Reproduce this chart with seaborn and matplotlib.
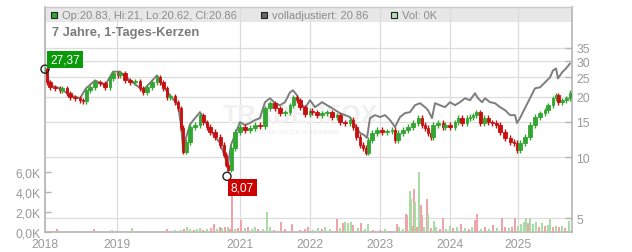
import numpy as np
import matplotlib
matplotlib.use("Agg")
import matplotlib.pyplot as plt
import seaborn as sns
from matplotlib.patches import Rectangle
from matplotlib.ticker import FixedLocator, NullLocator, FixedFormatter

# ---------------- data ----------------
sessions = [0, 2, 5, 10, 15, 17, 22, 25, 30, 35,
            38, 41, 45, 50, 55, 60, 65, 68, 73, 75,
            80, 85, 90, 95, 98, 102, 107, 112, 115, 118,
            122, 125, 130, 133, 136, 138, 141, 145, 150, 155,
            158, 162, 165, 170, 175, 179, 181, 183, 186, 190,
            195, 200, 205, 210, 215, 220, 225, 230, 235, 240,
            245, 248, 252, 255, 260, 265, 267, 272, 277, 282,
            287, 292, 295, 300, 305, 308, 311, 315, 318, 321,
            323, 327, 332, 337, 342, 347, 350, 353, 358, 363,
            368, 373, 377, 380, 383, 386, 388, 393, 398, 400,
            405, 410, 413, 417, 422, 425, 428, 431, 435, 439,
            443, 447, 451, 455, 460, 465, 469, 472, 475, 480,
            485, 490, 495, 500, 503, 508, 511, 513, 517, 521,
            525]
close = [27.37, 23.54, 22.25, 22.00, 21.51, 22.00, 20.79, 19.87, 19.65, 19.21,
         19.00, 21.51, 22.25, 23.54, 23.28, 22.25, 24.63, 26.07, 25.49, 26.07,
         24.08, 23.54, 23.80, 22.00, 21.02, 22.25, 23.54, 24.91, 23.54, 22.00,
         19.87, 20.10, 18.78, 17.55, 14.00, 10.67, 11.95, 14.15, 14.47, 16.21,
         14.97, 14.15, 13.38, 12.64, 11.55, 10.31, 9.21, 8.70, 11.16, 13.38,
         14.15, 13.68, 14.00, 14.47, 14.30, 17.55, 18.57, 17.55, 16.58, 16.77,
         18.15, 19.87, 19.21, 17.75, 16.40, 17.00, 16.77, 16.21, 16.58, 16.77,
         15.85, 16.21, 14.97, 14.81, 15.32, 14.15, 12.64, 11.55, 11.16, 10.55,
         12.22, 13.22, 13.68, 13.38, 13.50, 13.68, 12.22, 13.22, 13.68, 14.15,
         14.81, 15.67, 14.47, 14.00, 13.22, 12.64, 14.47, 14.81, 14.15, 14.47,
         14.15, 14.97, 15.67, 14.81, 15.67, 15.85, 16.21, 16.77, 14.81, 15.67,
         14.97, 14.81, 14.47, 13.38, 12.50, 11.95, 11.81, 10.91, 11.81, 12.64,
         14.47, 15.85, 16.58, 17.16, 18.15, 19.65, 20.32, 18.78, 19.21, 19.65,
         20.86]

adj_sessions = [0, 5, 15, 25, 35, 41, 50, 60, 68, 75,
                85, 98, 112, 118, 125, 133, 136, 138, 145, 155,
                165, 175, 181, 183, 186, 195, 200, 205, 210, 215,
                220, 225, 230, 235, 240, 245, 248, 252, 255, 260,
                265, 270, 277, 282, 287, 295, 300, 305, 310, 315,
                319, 322, 325, 330, 335, 340, 345, 350, 355, 360,
                365, 370, 375, 380, 383, 387, 390, 395, 400, 405,
                410, 415, 420, 425, 430, 433, 437, 440, 445, 450,
                455, 460, 465, 470, 472, 475, 480, 485, 490, 495,
                500, 505, 508, 511, 513, 517, 521, 525]
adj_close = [27.59, 22.75, 22.00, 20.32, 19.65, 22.00, 24.08, 22.75, 26.60, 26.60,
             24.08, 21.51, 25.49, 22.50, 20.32, 18.15, 14.47, 11.16, 14.60, 16.77,
             13.68, 11.81, 9.70, 9.21, 11.55, 14.97, 14.47, 14.81, 15.32, 15.67,
             18.78, 19.65, 18.57, 18.15, 18.78, 21.02, 21.51, 20.32, 18.78, 17.55,
             19.21, 17.75, 18.78, 18.15, 17.55, 16.58, 16.21, 15.85, 14.47, 13.22,
             12.93, 12.50, 15.67, 16.21, 15.85, 16.21, 15.32, 14.15, 15.85, 16.58,
             16.77, 18.15, 18.57, 17.75, 17.16, 15.67, 18.57, 18.15, 17.75, 18.78,
             18.15, 18.78, 19.65, 19.21, 20.79, 19.65, 18.78, 19.65, 18.78, 18.57,
             17.75, 17.16, 16.21, 16.21, 14.81, 15.67, 17.55, 19.65, 22.00, 22.25,
             23.54, 24.91, 26.97, 27.59, 24.63, 26.36, 27.59, 29.18]

vol_sessions = [5, 12, 17, 30, 49, 55, 67, 87, 95, 110,
                122, 130, 136, 139, 142, 145, 149, 152, 155, 158,
                162, 166, 169, 172, 175, 177, 180, 183, 185, 187,
                190, 193, 196, 200, 203, 207, 210, 213, 218, 222,
                225, 229, 236, 240, 247, 255, 260, 263, 268, 273,
                277, 280, 285, 292, 295, 298, 300, 303, 306, 308,
                313, 316, 320, 323, 328, 335, 340, 345, 352, 354,
                358, 361, 362, 365, 366, 368, 369, 370, 372, 374,
                376, 377, 379, 382, 383, 386, 389, 391, 395, 398,
                401, 405, 408, 412, 416, 420, 424, 427, 430, 432,
                436, 440, 444, 448, 452, 457, 460, 464, 467, 470,
                473, 476, 479, 481, 483, 485, 488, 491, 494, 497,
                500, 503, 505, 508, 511, 514, 517, 520, 524]
volume = [150, 300, 150, 100, 300, 100, 200, 400, 150, 150,
          300, 200, 250, 350, 500, 300, 250, 350, 400, 200,
          300, 400, 800, 300, 500, 450, 550, 500, 350, 4200,
          300, 400, 1200, 400, 500, 300, 500, 350, 300, 2000,
          500, 200, 1000, 300, 800, 200, 300, 500, 200, 400,
          300, 500, 300, 1300, 400, 900, 1000, 900, 1000, 700,
          400, 900, 300, 800, 200, 200, 300, 150, 800, 500,
          300, 1800, 1700, 4100, 3300, 600, 4300, 3000, 500, 6000,
          2700, 1700, 500, 3300, 1800, 400, 1100, 500, 300, 1400,
          300, 600, 400, 500, 800, 400, 300, 500, 1200, 1800,
          300, 500, 300, 700, 400, 1400, 500, 400, 500, 1400,
          600, 800, 1000, 1400, 900, 1400, 800, 1000, 500, 900,
          600, 700, 1300, 500, 600, 500, 600, 400, 1100]
vol_up = [0, 0, 1, 0, 0, 0, 1, 1, 0, 1,
          0, 1, 1, 0, 1, 1, 0, 1, 1, 0,
          1, 0, 0, 1, 0, 1, 0, 1, 0, 0,
          1, 0, 0, 1, 0, 1, 1, 0, 1, 1,
          1, 0, 0, 0, 0, 0, 0, 0, 1, 1,
          0, 1, 1, 0, 1, 0, 1, 1, 1, 0,
          1, 0, 1, 1, 0, 0, 1, 0, 0, 1,
          1, 0, 0, 1, 1, 0, 0, 1, 0, 1,
          0, 0, 1, 0, 1, 0, 1, 1, 0, 0,
          1, 1, 0, 1, 0, 1, 0, 1, 0, 0,
          1, 0, 1, 0, 1, 0, 0, 1, 0, 0,
          1, 1, 1, 1, 0, 1, 1, 1, 0, 1,
          0, 1, 1, 0, 1, 0, 1, 0, 1]

year_ticks = [0, 72, 195, 265, 335, 405, 473]
year_labels = ["2018", "2019", "2021", "2022", "2023", "2024", "2025"]
price_ticks = [5, 10, 15, 20, 25, 30, 35]
price_labels = ["5", "10", "15", "20", "25", "30", "35"]
vol_ticks = [0, 2000, 4000, 6000]
vol_labels = ["0,0K", "2,0K", "4,0K", "6,0K"]
high_session, high_price, high_label = 0, 27.37, "27,37"
low_session, low_price, low_label = 182, 8.07, "8,07"
title = "7 Jahre, 1-Tages-Kerzen"
legend_texts = ["Op:20.83, Hi:21, Lo:20.62, Cl:20.86", "volladjustiert: 20.86", "Vol: 0K"]

# ---------------- styling ----------------
sns.set_theme(style="white")
plt.rcParams['font.family'] = ['Liberation Sans', 'DejaVu Sans']

GREEN = '#33a532'
RED = '#c80f0f'
VGREEN = '#a9dca5'
VRED = '#f1a3aa'
GRID = '#dcdcdc'
TXT = '#9a9a9a'
SPINE = '#b5b5b5'

W, H = 632, 253
fig = plt.figure(figsize=(W / 100, H / 100), dpi=100)
L, R, B, T = 45, 572, 233, 8.3
ax = fig.add_axes([L / W, (H - B) / H, (R - L) / W, (B - T) / H])
ax.set_facecolor('white')

# candles (open = previous close)
s = np.array(sessions, float)
c = np.array(close, float)
o = np.concatenate([[c[0]], c[:-1]])
w = np.diff(s, append=s[-1] + 2)
up = c >= o
lo = np.minimum(o, c)
hi = np.maximum(o, c)
cols = np.where(up, GREEN, RED)
ax.vlines(s, lo * 0.97, hi * 1.03, colors=cols, linewidth=1.0, zorder=3)
ax.bar(s, hi - lo, bottom=lo, width=np.clip(w * 0.75, 1.6, 3.2), color=cols,
       edgecolor=cols, linewidth=0.6, zorder=3)

sns.lineplot(x=adj_sessions, y=adj_close, ax=ax, color='#7d7d7d',
             linewidth=1.4, zorder=2)

ax.set_yscale('log')
ax.set_ylim(4.277, 55.4)
ax.set_xlim(0, R - L)
ax.yaxis.set_major_locator(FixedLocator(price_ticks))
ax.yaxis.set_major_formatter(FixedFormatter(price_labels))
ax.yaxis.set_minor_locator(NullLocator())
ax.xaxis.set_major_locator(FixedLocator(year_ticks))
ax.xaxis.set_major_formatter(FixedFormatter(year_labels))
ax.set_axisbelow(True)
ax.grid(True, color=GRID, linewidth=0.9)

# legend band
ax.add_patch(Rectangle((0, 1 - 14.4 / (B - T)), 1, 14.4 / (B - T),
                       transform=ax.transAxes, facecolor='#e7e7e7',
                       edgecolor='none', zorder=0.2))

# watermark
ax.text((300 - L) / (R - L), (B - 116) / (B - T), "TRADERFOX", transform=ax.transAxes,
        ha='center', va='center', fontsize=18, fontweight='bold', color='#f0f0f0', zorder=1)
ax.text((296 - L) / (R - L), (B - 133) / (B - T), "ONLINE STOCK SCREENING",
        transform=ax.transAxes, ha='center', va='center', fontsize=4.5,
        color='#e8e8e8', zorder=1)

# volume axis
axv = ax.twinx()
axv.bar(vol_sessions, volume, width=1.3,
        color=[VGREEN if u else VRED for u in vol_up], linewidth=0, zorder=2)
axv.set_ylim(0, (B - T) * 100)
axv.yaxis.set_major_locator(FixedLocator(vol_ticks))
axv.yaxis.set_major_formatter(FixedFormatter(vol_labels))
axv.grid(False)

# axis sides: price right, volume left
ax.yaxis.tick_right()
axv.yaxis.tick_left()
for a in (ax, axv):
    for sp in a.spines.values():
        sp.set_visible(False)
for side in ('left', 'right', 'bottom'):
    ax.spines[side].set_visible(True)
    ax.spines[side].set_color(SPINE)
    ax.spines[side].set_linewidth(1.2)
ax.spines['top'].set_visible(True)
ax.spines['top'].set_color('#c8c8c8')
ax.spines['top'].set_linewidth(1.0)

ax.tick_params(axis='y', which='both', direction='in', length=5, width=1,
               color=SPINE, labelcolor=TXT, labelsize=8.8, pad=3,
               right=True, left=False, labelright=True, labelleft=False)
ax.tick_params(axis='x', length=0, labelcolor=TXT, labelsize=8.8, pad=4)
axv.tick_params(axis='y', direction='in', length=4, width=1, color=SPINE,
                labelcolor=TXT, labelsize=8.8, pad=3,
                left=True, right=False, labelleft=True, labelright=False)

def fx(px):
    return (px - L) / (R - L)

def fy(py):
    return (B - py) / (B - T)

# legend entries
for (px, col, txt, tx) in [(54, GREEN, legend_texts[0], 62),
                            (263.5, '#666666', legend_texts[1], 272),
                            (394, '#b5e0b5', legend_texts[2], 402)]:
    axv.scatter([fx(px)], [fy(16)], transform=ax.transAxes, marker='s', s=24,
                facecolor=col, edgecolor='#222222', linewidth=0.8, zorder=5,
                clip_on=False)
    axv.text(fx(tx), fy(16.2), txt, transform=ax.transAxes, ha='left', va='center',
             fontsize=8, color='#8c8c8c', zorder=5)

axv.text(fx(52), fy(33), title, transform=ax.transAxes, ha='left', va='center',
         fontsize=9.3, fontweight='bold', color='#7a7a7a', zorder=5)

# high / low annotations
axv.scatter([high_session], [high_price], transform=ax.transData, s=34,
            facecolor='none', edgecolor='#222222', linewidth=1, zorder=6, clip_on=False)
axv.scatter([low_session], [low_price], transform=ax.transData, s=34,
            facecolor='none', edgecolor='#222222', linewidth=1, zorder=6, clip_on=False)
axv.annotate(high_label, xy=(high_session, high_price), xycoords=ax.transData,
             xytext=(20, 9.5), textcoords='offset pixels', ha='center', va='center',
             fontsize=8.6, color='white', zorder=7,
             bbox=dict(boxstyle='square,pad=0.22', facecolor='#0a9a0a', edgecolor='none'))
axv.annotate(low_label, xy=(low_session, low_price), xycoords=ax.transData,
             xytext=(15.5, -11.5), textcoords='offset pixels', ha='center', va='center',
             fontsize=8.6, color='white', zorder=7,
             bbox=dict(boxstyle='square,pad=0.22', facecolor='#cc0000', edgecolor='none'))

fig.savefig('out.png', dpi=100)
